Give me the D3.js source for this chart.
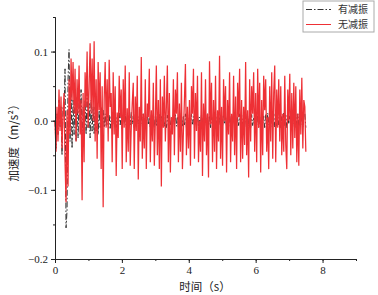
<!DOCTYPE html>
<html>
<head>
<meta charset="utf-8">
<script src="https://cdn.jsdelivr.net/npm/d3@7"></script>
<style>
body{margin:0;background:#fff}
.axis path,.axis line{stroke:#222}
.axis text{font-family:"Liberation Serif",serif;font-size:11px;fill:#222}
.label{font-family:"Noto Sans CJK SC",sans-serif;font-size:11.5px;fill:#222}
.leg{font-family:"Noto Sans CJK SC",sans-serif;font-size:10px;fill:#333}
</style>
</head>
<body>
<svg class="graph1"></svg>
<script>
// sample step (s)
var dt = 0.03;

var xTicks = [0,2,4,6,8];
var yTicks = [-0.2,-0.1,0.0,0.1];
var seriesNames = ["有减振","无减振"];

// 无减振 (red)
var noDamp = [
 0.000,-0.045,0.020,-0.030,0.045,-0.015,0.035,-0.040,0.010,0.040,
 -0.060,-0.118,0.015,-0.095,0.060,-0.020,0.090,0.030,0.085,0.010,
 0.075,-0.030,0.060,0.010,0.080,-0.020,0.030,-0.115,0.040,-0.060,
 0.070,0.020,0.100,-0.010,0.050,0.112,0.010,0.090,0.000,0.115,
 -0.030,0.060,-0.055,0.085,0.015,0.070,-0.070,0.050,-0.125,0.030,
 0.085,-0.010,0.060,-0.030,0.088,0.020,0.040,-0.060,0.070,-0.020,
 0.050,-0.080,0.012,-0.025,0.065,0.005,0.045,-0.070,0.060,-0.010,
 0.080,-0.060,0.018,-0.045,0.070,-0.065,-0.010,0.025,0.055,-0.070,
 0.035,-0.015,0.065,-0.085,0.020,-0.030,0.092,-0.055,0.010,-0.040,
 0.060,-0.070,0.025,0.005,0.075,-0.060,0.015,-0.030,0.055,-0.065,
 0.000,0.080,-0.050,0.030,-0.070,0.060,-0.095,0.035,-0.010,0.065,
 -0.030,0.020,0.080,-0.060,0.040,-0.075,0.005,-0.020,0.060,-0.050,
 0.045,0.010,0.070,-0.060,0.025,-0.045,0.055,-0.070,-0.015,0.030,
 0.082,-0.050,0.020,-0.040,0.030,-0.065,0.050,0.010,0.075,-0.055,
 0.040,-0.015,0.065,-0.060,0.000,-0.045,0.070,-0.080,0.025,-0.030,
 0.060,-0.050,0.010,-0.082,0.086,-0.005,0.055,-0.060,0.030,-0.045,
 0.065,-0.070,0.015,-0.030,0.094,-0.055,0.020,-0.065,0.060,0.000,
 0.050,-0.075,0.030,-0.020,0.070,-0.060,0.010,-0.030,0.065,-0.050,
 0.035,-0.070,0.055,0.005,0.075,-0.060,0.030,-0.055,0.020,-0.035,
 0.085,-0.050,0.015,-0.082,0.060,-0.030,0.050,0.010,0.070,-0.045,
 0.040,-0.060,0.075,-0.010,0.055,-0.075,0.030,-0.050,0.065,0.015,
 0.060,-0.045,0.005,-0.070,0.050,-0.030,0.070,-0.055,0.040,0.080,
 -0.060,0.045,-0.010,0.060,-0.030,0.050,-0.050,0.010,-0.045,0.065,
 -0.035,-0.070,0.045,0.000,0.068,-0.050,0.040,-0.040,0.055,-0.025,
 0.050,-0.060,0.010,-0.065,0.045,-0.020,0.062,-0.040,0.030,0.020,-0.045
];

// 有减振 (dash-dot)
var withDamp = [
 0.000,-0.040,0.010,-0.020,0.030,-0.010,0.020,-0.050,0.020,0.010,
 0.075,-0.155,-0.130,0.060,0.103,-0.030,0.050,-0.040,0.030,-0.020,
 0.040,-0.030,0.035,-0.025,0.030,0.000,0.045,-0.030,0.020,-0.015,
 0.030,-0.020,0.040,-0.010,0.025,-0.025,0.030,-0.015,0.020,-0.020,
 0.020,-0.015,0.025,-0.020,0.015,-0.010,0.020,-0.025,0.015,-0.010,
 0.010,-0.008,0.012,-0.006,0.008,-0.011,0.006,-0.009,0.012,-0.005,
 0.008,-0.010,0.005,-0.008,0.011,-0.006,0.009,-0.012,0.006,-0.004,
 0.010,-0.008,0.005,-0.009,0.008,-0.006,0.012,-0.005,0.007,-0.010,
 0.009,-0.007,0.011,-0.005,0.006,-0.009,0.008,-0.008,0.010,-0.005,
 0.007,-0.011,0.009,-0.006,0.005,-0.009,0.012,-0.007,0.008,-0.010,
 0.006,-0.008,0.010,-0.005,0.009,-0.010,0.007,-0.005,0.011,-0.008,
 0.005,-0.010,0.008,-0.007,0.010,-0.006,0.005,-0.010,0.009,-0.005,
 0.010,-0.008,0.006,-0.010,0.008,-0.005,0.011,-0.009,0.007,-0.006,
 0.010,-0.010,0.005,-0.007,0.009,-0.008,0.010,-0.005,0.006,-0.010,
 0.008,-0.006,0.011,-0.009,0.005,-0.008,0.010,-0.007,0.007,-0.010,
 0.009,-0.005,0.010,-0.008,0.006,-0.010,0.008,-0.005,0.010,-0.009,
 0.007,-0.007,0.011,-0.006,0.005,-0.010,0.009,-0.008,0.010,-0.005,
 0.006,-0.009,0.008,-0.010,0.010,-0.006,0.007,-0.008,0.011,-0.005,
 0.009,-0.010,0.005,-0.007,0.010,-0.009,0.008,-0.006,0.006,-0.010,
 0.010,-0.005,0.007,-0.008,0.011,-0.010,0.009,-0.007,0.005,-0.008,
 0.010,-0.006,0.008,-0.010,0.006,-0.009,0.010,-0.005,0.007,-0.010,
 0.009,-0.008,0.011,-0.006,0.008,-0.010,0.005,-0.007,0.010,-0.009,
 0.007,-0.008,0.010,-0.006,0.009,-0.010,0.006,-0.008,0.011,-0.007,
 0.008,-0.010,0.010,-0.005,0.007,-0.009,0.010,-0.008,0.006,-0.010,
 0.009,-0.007,0.010,-0.008,0.011,-0.006,0.010,-0.009,0.008,0.010,-0.010
];

var screen = {width:378,height:295};
var margins = {left:55,right:22,top:17,bottom:36};
var graph = {
    width:screen.width-margins.left-margins.right,
    height:screen.height-margins.top-margins.bottom
};

var svg = d3.select(".graph1")
    .attr("width",screen.width)
    .attr("height",screen.height);

var xScale = d3.scaleLinear().domain([0,9]).range([0,graph.width]);
var yScale = d3.scaleLinear().domain([-0.2,0.15]).range([graph.height,0]);

var target = svg.append("g")
    .attr("transform","translate("+margins.left+","+margins.top+")");

var line = d3.line()
    .x(function(d,i){return xScale(i*dt);})
    .y(function(d){return yScale(d);});

target.append("path")
    .datum(withDamp)
    .attr("d",line)
    .attr("fill","none")
    .attr("stroke","#333")
    .attr("stroke-width",1)
    .attr("stroke-dasharray","6,2,1.5,2");

target.append("path")
    .datum(noDamp)
    .attr("d",line)
    .attr("fill","none")
    .attr("stroke","#ee3035")
    .attr("stroke-width",1.25);

// axes
var minorX = d3.range(0,10,1);
var minorY = d3.range(-0.2,0.16,0.05);
target.append("g").classed("axis",true)
    .attr("transform","translate(0,"+graph.height+")")
    .call(d3.axisBottom(xScale).tickValues(minorX).tickSize(2).tickFormat(""));
target.append("g").classed("axis",true)
    .attr("transform","translate(0,"+graph.height+")")
    .call(d3.axisBottom(xScale).tickValues(xTicks).tickSize(4).tickSizeOuter(0).tickPadding(3).tickFormat(d3.format("d")));
target.append("g").classed("axis",true)
    .call(d3.axisLeft(yScale).tickValues(minorY).tickSize(2).tickFormat(""));
target.append("g").classed("axis",true)
    .call(d3.axisLeft(yScale).tickValues(yTicks).tickSize(4).tickSizeOuter(0).tickPadding(3).tickFormat(d3.format(".1f")));

// labels
svg.append("text").classed("label",true)
    .attr("text-anchor","middle")
    .attr("x",205).attr("y",291)
    .text("时间（s）");
svg.append("g")
    .attr("transform","translate(18,140)")
    .append("text").classed("label",true)
    .attr("text-anchor","middle")
    .attr("transform","rotate(-90)")
    .text("加速度（m/s²）");

// legend
var legend = svg.append("g").attr("transform","translate(303,1)");
legend.append("rect")
    .attr("width",71).attr("height",31)
    .attr("fill","#fff").attr("stroke","#aaa");
var styles = [
    {stroke:"#333",dash:"6,2,1.5,2"},
    {stroke:"#ee3035",dash:null}
];
seriesNames.forEach(function(name,i){
    var row = legend.append("g").attr("transform","translate(0,"+(8.5+i*15)+")");
    row.append("line")
        .attr("x1",3).attr("x2",28).attr("y1",0).attr("y2",0)
        .attr("stroke",styles[i].stroke)
        .attr("stroke-dasharray",styles[i].dash);
    row.append("text").classed("leg",true)
        .attr("x",35).attr("y",3.5)
        .text(name);
});
</script>
</body>
</html>
